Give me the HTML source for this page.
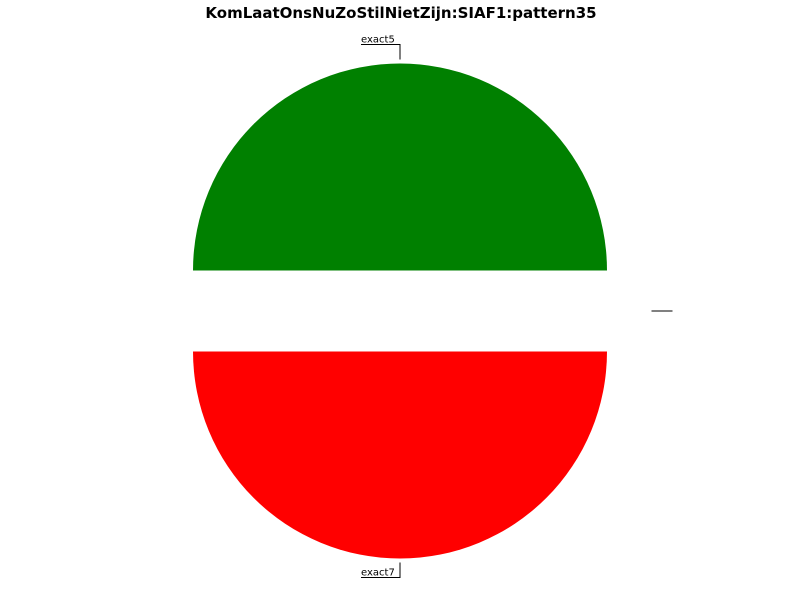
<!DOCTYPE html>
<html><head><meta charset="utf-8"><style>body{margin:0;background:#fff}svg{display:block}text{font-family:"DejaVu Sans",sans-serif}</style></head>
<body>
<svg id="c" width="800" height="600">
<text x="401" y="18" text-anchor="middle" font-size="15" font-weight="bold">KomLaatOnsNuZoStilNietZijn:SIAF1:pattern35</text>
</svg>
<script>
const labels = ["", "exact5", "exact7"];
const values = [0, 1, 1];
const colors = ["#0000ff", "#008000", "#ff0000"];
const svg = document.getElementById('c');
const NS = 'http://www.w3.org/2000/svg';
const cx = 400, cy = 311, r = 207, ex = 40.5;
const total = values.reduce((a,b)=>a+b,0);
let ang = 0;
values.forEach((v,i)=>{
  const a0 = ang, a1 = ang + v/total*2*Math.PI; ang = a1;
  const mid = (a0+a1)/2;
  const dx = Math.cos(mid), dy = -Math.sin(mid);
  const ox = cx + dx*ex, oy = cy + dy*ex;
  if (v > 0) {
    const p = document.createElementNS(NS,'path');
    const x0 = ox + r*Math.cos(a0), y0 = oy - r*Math.sin(a0);
    const x1 = ox + r*Math.cos(a1), y1 = oy - r*Math.sin(a1);
    const large = (a1-a0) > Math.PI ? 1 : 0;
    p.setAttribute('d', `M${ox},${oy} L${x0},${y0} A${r},${r} 0 ${large} 0 ${x1},${y1} Z`);
    p.setAttribute('fill', colors[i]);
    
    
    svg.appendChild(p);
  }
  const g = document.createElementNS(NS,'g');
  
  
  const ax = ox + (r+4)*dx, ay = oy + (r+4)*dy;
  let d, tx, ty;
  if (Math.abs(dy) > 0.5) {
    const ey = ay + dy*15;
    d = `M${ax},${ay} L${ax},${ey} L${ax-39},${ey}`;
    tx = ax-39; ty = ey-2;
  } else {
    d = `M${ax+ (dx>0?0:-21)},${ay} L${ax+(dx>0?21:0)},${ay}`;
    tx = ax; ty = ay-2;
  }
  const l = document.createElementNS(NS,'path');
  l.setAttribute('d', d); l.setAttribute('stroke', '#000'); l.setAttribute('fill','none');
  g.appendChild(l);
  const t = document.createElementNS(NS,'text');
  t.setAttribute('x', tx); t.setAttribute('y', ty); t.setAttribute('font-size', '10');
  t.textContent = labels[i];
  g.appendChild(t);
  svg.appendChild(g);
});
</script>
</body></html>
